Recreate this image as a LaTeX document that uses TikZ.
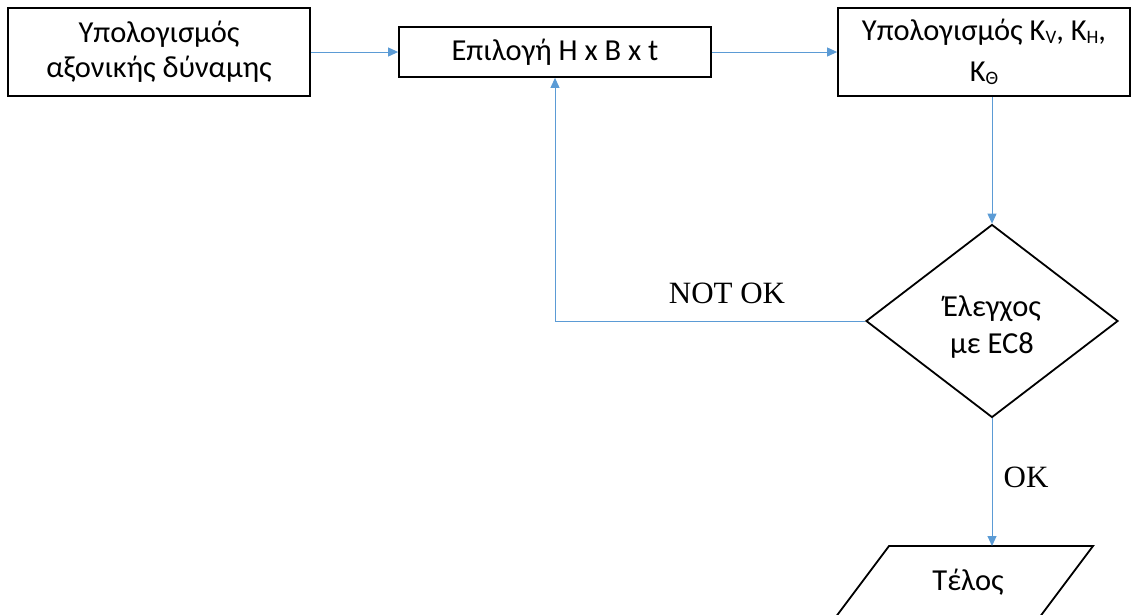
\documentclass[tikz,border=0pt]{standalone}
\usepackage{fontspec}
\setmainfont{Carlito}
\newfontfamily\tnr{Liberation Serif}
\usetikzlibrary{arrows.meta,shapes.geometric}
\begin{document}
\begin{tikzpicture}[x=1pt,y=-1pt,
  box/.style={draw=black,line width=1.8pt,rectangle,inner sep=0pt,align=center,font=\fontsize{30.5}{35}\selectfont},
  conn/.style={draw={rgb,255:red,91;green,155;blue,213},line width=1pt},
  arr/.style={conn,-{Triangle[length=10pt,width=9pt]}},
  lbl/.style={font=\tnr\fontsize{31}{34}\selectfont}]
\useasboundingbox (0,0) rectangle (1135,614);
\begin{scope}
\clip (0,0) rectangle (1135,614);
\node[box,minimum width=302pt,minimum height=88pt] (b1) at (159,52) {Υπολογισμός\\αξονικής δύναμης};
\node[box,minimum width=312pt,minimum height=50pt] (b2) at (555,52) {Επιλογή Η x Β x t};
\node[box,minimum width=292pt,minimum height=88pt,font=\fontsize{30.5}{41}\selectfont] (b3) at (984,52)
  {Υπολογισμός Κ\raisebox{-0.25ex}{\fontsize{19}{19}\selectfont V}, Κ\raisebox{-0.25ex}{\fontsize{19}{19}\selectfont H},\\Κ\raisebox{-0.25ex}{\fontsize{19}{19}\selectfont Θ}};
\node[draw=black,line width=1.8pt,diamond,inner sep=0pt,aspect=1.3,minimum width=252pt,minimum height=193pt,align=center,font=\fontsize{30.5}{37}\selectfont] (dia) at (992,321) {\rule{0pt}{33pt}Έλεγχος\\με EC8};
\coordinate (ptl) at (889,546);
\coordinate (ptr) at (1093,546);
\coordinate (pbr) at (1039,618);
\coordinate (pbl) at (835,618);
\coordinate (endtop) at (992,546);
\draw[line width=1.8pt,line join=miter] (ptl) -- (ptr) -- (pbr) -- (pbl) -- cycle;
\node[font=\fontsize{30.5}{35}\selectfont] (end) at (968,582) {Τέλος};
\draw[arr] (b1.east) -- (b2.west);
\draw[arr] (b2.east) -- (b3.west);
\draw[arr] (b3.south -| dia.north) -- (dia.north);
\draw[arr] (dia.west) -- (b2.south |- dia.west) -- (b2.south);
\draw[arr] (dia.south) -- (endtop);
\node[lbl] (notok) at (727,293) {NOT OK};
\node[lbl] (ok) at (1026,477) {OK};
\end{scope}
\end{tikzpicture}
\end{document}
